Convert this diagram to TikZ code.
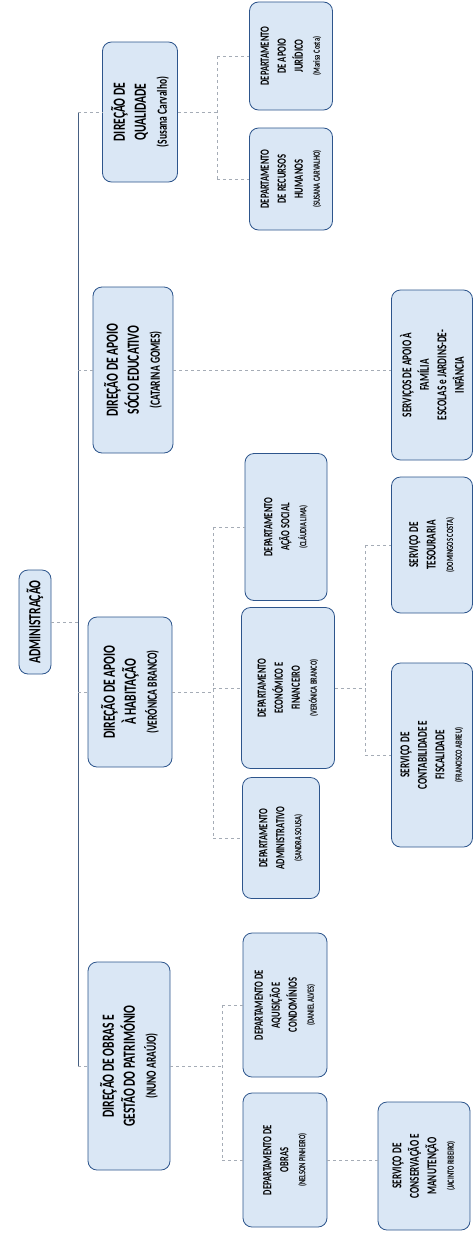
\documentclass[tikz,border=0pt]{standalone}
\usepackage{fontspec}
\setmainfont{Carlito}
\usetikzlibrary{positioning,calc}

\definecolor{boxfill}{RGB}{218,231,245}
\definecolor{boxline}{RGB}{45,85,140}
\definecolor{busline}{RGB}{70,95,130}
\definecolor{linkgray}{RGB}{165,172,182}

\newcommand{\pname}[1]{{\fontsize{14}{16}\selectfont #1}}
\newcommand{\dname}[1]{{\fontsize{9.5}{11}\selectfont #1}}

\begin{document}
\begin{tikzpicture}[x=1pt, y=-1pt,
    bx/.style={draw=boxline, fill=boxfill, rounded corners=9pt, line width=0.8pt,
               rotate=90, xscale=0.68, align=center, inner sep=2pt},
    sz/.style 2 args={minimum height=#1, minimum width=#2/0.68},
    dir/.style={bx, font=\fontsize{17}{21}\selectfont\bfseries},
    dep/.style={bx, font=\fontsize{12.5}{17}\selectfont\bfseries},
    srv/.style={bx, font=\fontsize{13.5}{17.5}\selectfont\bfseries},
    bus/.style={draw=busline, line width=0.8pt},
    ln/.style={draw=linkgray, line width=0.5pt, dashed},
]
\fill[white] (0,0) rectangle (474,1234);
\useasboundingbox (0,0) rectangle (474,1234);

% === Top ===
\node[bx, sz={32}{104}, font=\fontsize{17}{19}\selectfont\bfseries] (adm) at (35,622) {ADMINISTRAÇÃO};

% === Directions ===
\node[dir, sz={75}{140}] (dQual) at (140,112) {DIREÇÃO DE\\QUALIDADE\\\pname{(Susana Carvalho)}};
\node[dir, sz={80}{166}] (dSocio) at (133,370) {DIREÇÃO DE APOIO\\SÓCIO EDUCATIVO\\\pname{(CATARINA GOMES)}};
\node[dir, sz={84}{150}] (dHab) at (130,692) {DIREÇÃO DE APOIO\\À HABITAÇÃO\\\pname{(VERÓNICA BRANCO)}};
\node[dir, sz={82}{208}] (dObras) at (129,1066) {DIREÇÃO DE OBRAS E\\GESTÃO DO PATRIMÓNIO\\\pname{(NUNO ARAÚJO)}};

% === Departments ===
\node[dep, sz={83}{108}] (depJur) at (291,56) {DEPARTAMENTO\\DE APOIO\\JURÍDICO\\\dname{(Marisa Costa)}};
\node[dep, sz={83}{102}] (depRH) at (291,179) {DEPARTAMENTO\\DE RECURSOS\\HUMANOS\\\dname{(SUSANA CARVALHO)}};
\node[dep, sz={82}{147}] (depAcao) at (286,527) {DEPARTAMENTO\\AÇÃO SOCIAL\\\dname{(CLÁUDIA LIMA)}};
\node[dep, sz={93}{161}] (depEcon) at (288,688) {DEPARTAMENTO\\ECONÓMICO E\\FINANCEIRO\\\dname{(VERÓNICA BRANCO)}};
\node[dep, sz={77}{121}] (depAdm) at (281,838) {DEPARTAMENTO\\ADMINISTRATIVO\\\dname{(SANDRA SOUSA)}};
\node[dep, sz={84}{144}] (depAquis) at (285,1005) {DEPARTAMENTO DE\\AQUISIÇÃO E\\CONDOMÍNIOS\\\dname{(DANIEL ALVES)}};
\node[dep, sz={84}{134}] (depObras) at (285,1160) {DEPARTAMENTO DE\\OBRAS\\\dname{(NELSON PINHEIRO)}};

% === Services ===
\node[srv, sz={81}{170}] (sFam) at (432,375) {SERVIÇOS DE APOIO À\\FAMÍLIA\\ESCOLAS e JARDINS-DE-\\INFÂNCIA};
\node[srv, sz={81}{136}] (sTes) at (432,545) {SERVIÇO DE\\TESOURARIA\\\dname{(DOMINGOS COSTA)}};
\node[srv, sz={81}{184}] (sCont) at (432,755) {SERVIÇO DE\\CONTABILIDADE E\\FISCALIDADE\\\dname{(FRANCISCO ABREU)}};
\node[srv, sz={92}{128}] (sCons) at (424,1166) {SERVIÇO DE\\CONSERVAÇÃO E\\MANUTENÇÃO\\\dname{(JACINTO RIBEIRO)}};

% --- Main bus ---
\coordinate (busT) at (78,112);
\coordinate (busB) at (78,1066);
\draw[bus] (busT) -- (busB);
\draw[ln] (adm.south) -- (adm.south -| busT);
\foreach \n in {dQual,dSocio,dHab,dObras}
  \draw[ln] (busT |- \n) -- (\n.north);

% --- Qualidade ---
\coordinate (qb) at (217,0);
\draw[ln] (dQual.south) -- (qb |- dQual.south);
\draw[ln] (qb |- depJur) -- (qb |- depRH);
\foreach \n in {depJur,depRH}
  \draw[ln] (qb |- \n) -- (\n.north);

% --- Socio educativo ---
\draw[ln] (dSocio.south) -- (dSocio.south -| sFam.north);

% --- Habitacao ---
\coordinate (hb) at (213,0);
\draw[ln] (dHab.south) -- (hb |- dHab.south);
\draw[ln] (hb |- depAcao) -- (hb |- depAdm);
\foreach \n in {depAcao,depEcon,depAdm}
  \draw[ln] (hb |- \n) -- (\n.north);

% --- Economico e financeiro ---
\coordinate (eb) at (365,0);
\draw[ln] (depEcon.south) -- (eb |- depEcon.south);
\draw[ln] (eb |- sTes) -- (eb |- sCont);
\foreach \n in {sTes,sCont}
  \draw[ln] (eb |- \n) -- (\n.north);

% --- Obras ---
\coordinate (ob) at (222,0);
\draw[ln] (dObras.south) -- (ob |- dObras.south);
\draw[ln] (ob |- depAquis) -- (ob |- depObras);
\foreach \n in {depAquis,depObras}
  \draw[ln] (ob |- \n) -- (\n.north);
\draw[ln] (depObras.south) -- (depObras.south -| sCons.north);

\end{tikzpicture}
\end{document}
